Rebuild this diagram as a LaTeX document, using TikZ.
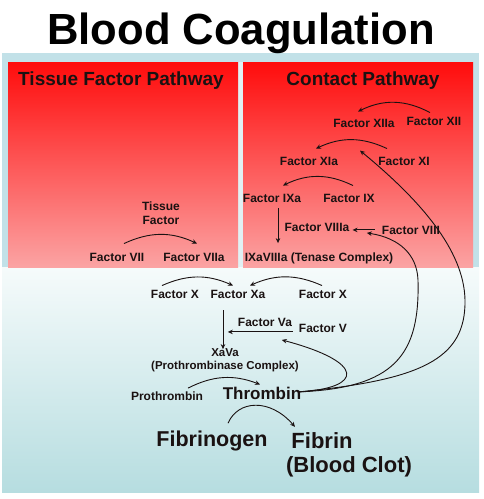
\documentclass[tikz,border=0pt]{standalone}
\usepackage{fontspec}
\setmainfont{Liberation Sans}
\usetikzlibrary{arrows.meta,calc}
\definecolor{ink}{HTML}{1A1212}
\definecolor{frame}{HTML}{C2E1E8}
\definecolor{mist}{HTML}{F6FBFB}
\definecolor{teal}{HTML}{B6DDE0}
\definecolor{redtop}{HTML}{FF0C0C}
\definecolor{redbot}{HTML}{FBA3A3}

\begin{document}
\begin{tikzpicture}[
  x=1pt, y=-1pt,
  lbl/.style={inner sep=0pt,anchor=base,text=ink,font=\bfseries\fontsize{12}{14}\selectfont},
  head/.style={lbl,font=\bfseries\fontsize{19}{22}\selectfont},
  big/.style={lbl,font=\bfseries\fontsize{22}{26}\selectfont},
  pathbox/.style={top color=redtop,bottom color=redbot,draw=none},
  arrow/.style={-{Stealth[length=5pt,width=4.5pt]},line width=0.9pt,draw=ink}
]
  \useasboundingbox (0,0) rectangle (483,499);
  \fill[white] (0,0) rectangle (483,499);

  % background panel and the two pathway boxes
  \fill[frame] (2,53) rectangle (479,268);
  \shade[top color=mist,bottom color=teal] (2,267) rectangle (479,492);
  \fill[mist!60!frame] (238,62) rectangle (243,267);
  \shade[pathbox] (8,62) rectangle (238,267);
  \shade[pathbox] (243,62) rectangle (473,267);

  \node[lbl,text=black,font=\bfseries\fontsize{43.6}{50}\selectfont] (title) at (241,44) {Blood Coagulation};
  \node[head] (tfp) at (121,85) {Tissue Factor Pathway};
  \node[head] (cp) at (363,85) {Contact Pathway};

  % contact pathway
  \node[lbl] (f12a) at (364,127) {Factor XIIa};
  \node[lbl] (f12) at (434,125) {Factor XII};
  \node[lbl] (f11a) at (309,165) {Factor XIa};
  \node[lbl] (f11) at (404,165) {Factor XI};
  \node[lbl] (f9a) at (272,202) {Factor IXa};
  \node[lbl] (f9) at (349,202) {Factor IX};
  \node[lbl] (f8a) at (317,231) {Factor VIIIa};
  \node[lbl] (f8) at (411,234) {Factor VIII};
  \node[lbl] (tenase) at (319,261) {IXaVIIIa (Tenase Complex)};

  % tissue factor pathway
  \node[lbl,anchor=center,align=center] (tf) at (161,213) {Tissue\\Factor};
  \node[lbl] (f7) at (117,261) {Factor VII};
  \node[lbl] (f7a) at (194,261) {Factor VIIa};

  % common pathway
  \node[lbl] (fxl) at (175,298) {Factor X};
  \node[lbl] (fxa) at (238,298) {Factor Xa};
  \node[lbl] (fxr) at (323,298) {Factor X};
  \node[lbl] (f5a) at (265,326) {Factor Va};
  \node[lbl] (f5) at (323,332) {Factor V};
  \node[lbl,anchor=center,align=center,font=\bfseries\fontsize{11.5}{13}\selectfont] (xava) at (225,360) {XaVa\\(Prothrombinase Complex)};
  \node[lbl] (prot) at (167,400) {Prothrombin};
  \node[lbl,font=\bfseries\fontsize{17}{20}\selectfont] (thr) at (262,399) {Thrombin};
  \node[big,font=\bfseries\fontsize{21.5}{26}\selectfont] (fbg) at (212,446) {Fibrinogen};
  \node[big] (fbn) at (322,448) {Fibrin};
  \node[big] (clot) at (349,472) {(Blood Clot)};

  \coordinate (vfb) at ($(f5.west)+(-17,12)$);

  \draw[arrow] ($(f12.north)+(-4,-4)$) to[bend right=27] ($(f12a.north)+(-6,-7)$);
  \draw[arrow] ($(f11.north)+(-17,-8)$) to[bend right=25] ($(f11a.north)+(7,-8)$);
  \draw[arrow] ($(f9.north)+(4,-8)$) to[bend right=26] ($(f9a.north)+(11,-8)$);
  \draw[arrow] ($(f8.west)+(-7,0)$) -- ($(f8a.east)+(3,3)$);
  \draw[arrow] ($(f9a.south)+(6,6)$) -- ($(tenase.north)+(-41,-9)$);
  \draw[arrow] ($(f7.north)+(7,-9)$) to[bend left=25] ($(f7a.north)+(3,-9)$);

  \draw[arrow] ($(fxl.north)+(-13,-4)$) to[bend left=24] ($(fxa.north)+(-5,-4)$);
  \draw[arrow] ($(fxr.north)+(-1,-4)$) to[bend right=24] ($(fxa.north)+(12,-4)$);
  \draw[arrow] ($(fxa.south)+(-15,12)$) -- ($(xava.north)+(-2,1)$);
  \draw[arrow] ($(f5.west)+(-6,4)$) -- ($(f5.west)+(-71,4)$);
  \draw[arrow] ($(prot.north)+(21,-3)$) to[bend left=24] ($(thr.north)+(-2,-2)$);
  \draw[arrow] ($(fbg.north)+(16,-7)$) .. controls (238,400) and (270,398) .. ($(fbn.north)+(-27,-5)$);

  % thrombin feedback
  \draw[arrow] ($(thr.east)+(-3,-1)$) .. controls (365,388) and (365,362) .. (vfb);
  \draw[arrow] ($(thr.east)+(-3,-1)$) .. controls (395,388) and (420,355) .. (418,280)
    .. controls (417,255) and (400,238) .. ($(f8.west)+(-15,3)$);
  \draw[arrow] ($(thr.east)+(-3,-1)$) .. controls (420,380) and (466,360) .. (465,300)
    .. controls (464,250) and (420,200) .. ($(f11.north)+(-44,-6)$);
\end{tikzpicture}
\end{document}
